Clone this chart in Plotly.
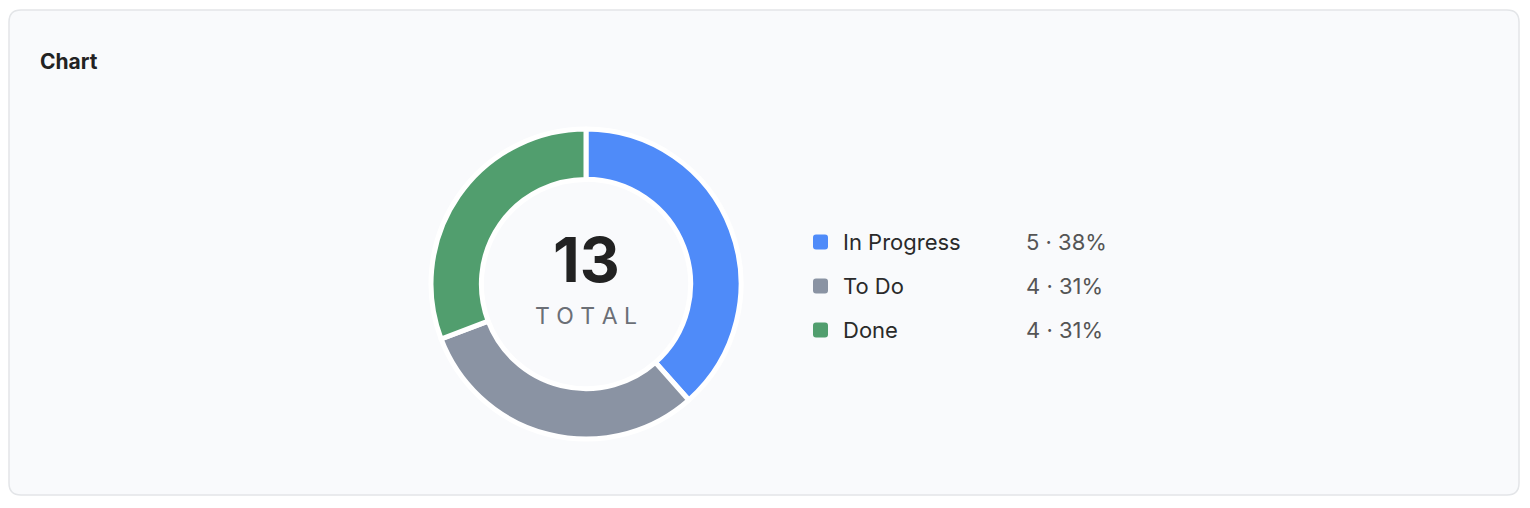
import plotly.graph_objects as go

labels = ["In Progress", "To Do", "Done"]
values = [5, 4, 4]
colors = ["#4f8bf9", "#8a93a3", "#519e6e"]

W, H = 1530, 508
OFF = 8  # page body margin
total = sum(values)

def px(x): return (x - OFF) / W
def py(y): return 1 - (y - OFF) / H
def X(x): return x - OFF
def Y(y): return y - OFF

fig = go.Figure(go.Pie(
    labels=labels, values=values, hole=0.675, sort=False, direction="clockwise",
    rotation=0, marker=dict(colors=colors, line=dict(color="white", width=5)),
    textinfo="none", hoverinfo="label+value+percent", showlegend=False,
    domain=dict(x=[px(431), px(741)], y=[py(439), py(129)]),
))

x0, y0, x1, y1, r = X(9), Y(10), X(1519), Y(495), 12
path = (f"M {x0+r},{y0} L {x1-r},{y0} Q {x1},{y0} {x1},{y0+r} L {x1},{y1-r} Q {x1},{y1} {x1-r},{y1} "
        f"L {x0+r},{y1} Q {x0},{y1} {x0},{y1-r} L {x0},{y0+r} Q {x0},{y0} {x0+r},{y0} Z")
shapes = [dict(type="path", xref="x", yref="y", path=path, fillcolor="#f9fafc",
               line=dict(color="#e3e5e8", width=1.5), layer="below")]

ann = [
    dict(x=X(38), y=Y(61), text="<b>Chart</b>", showarrow=False, xanchor="left", yanchor="middle",
         font=dict(size=21, color="#222")),
    dict(x=X(586), y=Y(259), text=f"<b>{total}</b>", showarrow=False, font=dict(size=62, color="#222")),
    dict(x=X(586), y=Y(316), text="T O T A L", showarrow=False, font=dict(size=23, color="#6b6f76")),
]
rows = [242, 286, 330]
for lab, v, c, yy in zip(labels, values, colors, rows):
    a0, a1, b0, b1, rr = X(813), X(828), Y(yy - 7.5), Y(yy + 7.5), 3
    p = (f"M {a0+rr},{b0} L {a1-rr},{b0} Q {a1},{b0} {a1},{b0+rr} L {a1},{b1-rr} Q {a1},{b1} {a1-rr},{b1} "
         f"L {a0+rr},{b1} Q {a0},{b1} {a0},{b1-rr} L {a0},{b0+rr} Q {a0},{b0} {a0+rr},{b0} Z")
    shapes.append(dict(type="path", xref="x", yref="y", path=p, fillcolor=c, line=dict(width=0)))
    ann.append(dict(x=X(841), y=Y(yy), text=lab, showarrow=False, xanchor="left", yanchor="middle",
                    font=dict(size=22, color="#2a2a2a")))
    ann.append(dict(x=X(1024), y=Y(yy), text=f"{v} · {round(v/total*100)}%", showarrow=False,
                    xanchor="left", yanchor="middle", font=dict(size=22, color="#555")))
for a in ann:
    a["xref"] = "x"; a["yref"] = "y"

fig.update_layout(
    width=W, height=H, margin=dict(l=0, r=0, t=0, b=0),
    paper_bgcolor="white", plot_bgcolor="rgba(0,0,0,0)",
    font=dict(family="Inter, Noto Sans, sans-serif"),
    xaxis=dict(range=[0, W], visible=False, fixedrange=True),
    yaxis=dict(range=[H, 0], visible=False, fixedrange=True),
    shapes=shapes, annotations=ann,
)
fig.write_html("out.html")
